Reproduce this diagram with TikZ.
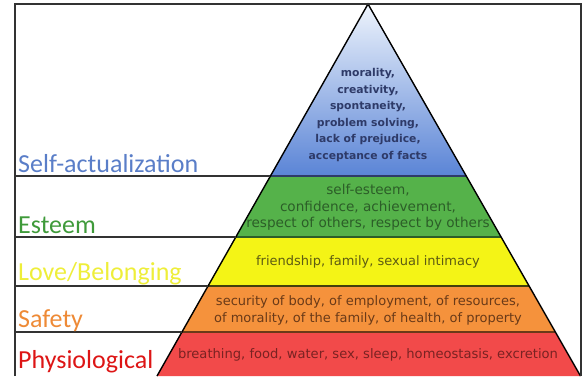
\documentclass[tikz,border=0pt]{standalone}
\usepackage{fontspec}
\newfontfamily\pyrfont{DejaVu Sans}
\newfontfamily\labfont{Carlito}
\definecolor{framec}{HTML}{333333}
\definecolor{bluetop}{HTML}{EEF4FC}
\definecolor{bluebot}{HTML}{5A84D6}
\definecolor{bandgreen}{HTML}{55B24A}
\definecolor{bandyellow}{HTML}{F4F416}
\definecolor{bandorange}{HTML}{F5923C}
\definecolor{bandred}{HTML}{F24A4A}
\definecolor{txtblue}{HTML}{2E3A68}
\definecolor{txtgreen}{HTML}{2C5E28}
\definecolor{txtyellow}{HTML}{5E5C12}
\definecolor{txtorange}{HTML}{6A3A18}
\definecolor{txtred}{HTML}{7A2222}
\definecolor{labblue}{HTML}{5A7EC8}
\definecolor{labgreen}{HTML}{3F9A3A}
\definecolor{labyellow}{HTML}{EEEE3A}
\definecolor{laborange}{HTML}{EE8A36}
\definecolor{labred}{HTML}{DD1515}
\tikzset{
  frameline/.style={draw=framec, line width=1.4pt},
  sepline/.style={draw=framec, line width=1.1pt},
  bandtext/.style={font=\pyrfont\fontsize{#1}{16.5}\selectfont, align=center, inner sep=0pt},
  toptext/.style={font=\pyrfont\bfseries\fontsize{10.8}{16.5}\selectfont, align=center, inner sep=0pt},
  levellabel/.style={font=\labfont\fontsize{26}{28}\selectfont, anchor=base west, inner sep=0pt},
}
\begin{document}
\begin{tikzpicture}[x=1pt,y=-1pt]
\useasboundingbox (0,0) rectangle (587,376);
% pyramid key points
\coordinate (A) at (368,4);
\coordinate (L1) at (270.2,176); \coordinate (R1) at (466.3,176);
\coordinate (L2) at (235.5,237); \coordinate (R2) at (501.1,237);
\coordinate (L3) at (207.6,286); \coordinate (R3) at (529.1,286);
\coordinate (L4) at (181.5,332); \coordinate (R4) at (555.4,332);
\coordinate (L5) at (157,376);   \coordinate (R5) at (580.5,376);
% frame
\coordinate (FBL) at (15,376); \coordinate (FTL) at (15,4);
\coordinate (FTR) at (581,4); \coordinate (FBR) at (581,376);
\coordinate (S1) at (15,176); \coordinate (S2) at (15,237);
\coordinate (S3) at (15,286); \coordinate (S4) at (15,332);
% bands
\shade[top color=bluetop, bottom color=bluebot] (A) -- (R1) -- (L1) -- cycle;
\fill[bandgreen] (L1) -- (R1) -- (R2) -- (L2) -- cycle;
\fill[bandyellow] (L2) -- (R2) -- (R3) -- (L3) -- cycle;
\fill[bandorange] (L3) -- (R3) -- (R4) -- (L4) -- cycle;
\fill[bandred] (L4) -- (R4) -- (R5) -- (L5) -- cycle;
% band boundaries
\draw[draw=txtblue, line width=1.1pt] (L1) -- (R1);
\draw[draw=txtgreen, line width=1.1pt] (L2) -- (R2);
\draw[draw=txtyellow!70!black, line width=1.1pt] (L3) -- (R3);
\draw[draw=txtorange, line width=1.1pt] (L4) -- (R4);
% outline
\draw[line width=1.4pt, line join=miter] (L5) -- (A) -- (R5);
% frame
\draw[frameline] (FBL) -- (FTL) -- (FTR) -- (FBR);
\draw[sepline] (S1) -- (L1);
\draw[sepline] (S2) -- (L2);
\draw[sepline] (S3) -- (L3);
\draw[sepline] (S4) -- (L4);
% labels
\node[levellabel, text=labblue] (lab1) at (18,172.5) {Self-actualization};
\node[levellabel, text=labgreen] (lab2) at (18,233) {Esteem};
\node[levellabel, text=labyellow] (lab3) at (18,280) {Love/Belonging};
\node[levellabel, text=laborange] (lab4) at (18,327) {Safety};
\node[levellabel, text=labred] (lab5) at (18,368) {Physiological};
% pyramid texts
\node[toptext, text=txtblue] (t1) at (368,115) {morality,\\creativity,\\spontaneity,\\problem solving,\\lack of prejudice,\\acceptance of facts};
\node[bandtext=13.6, text=txtgreen] (t2) at (368,207.5) {self-esteem,\\confidence, achievement,\\respect of others, respect by others};
\node[bandtext=13, text=txtyellow] (t3) at (368,262) {friendship, family, sexual intimacy};
\node[bandtext=13, text=txtorange] (t4) at (368,310.5) {security of body, of employment, of resources,\\of morality, of the family, of health, of property};
\node[bandtext=13.1, text=txtred] (t5) at (368,355) {breathing, food, water, sex, sleep, homeostasis, excretion};
\end{tikzpicture}
\end{document}
